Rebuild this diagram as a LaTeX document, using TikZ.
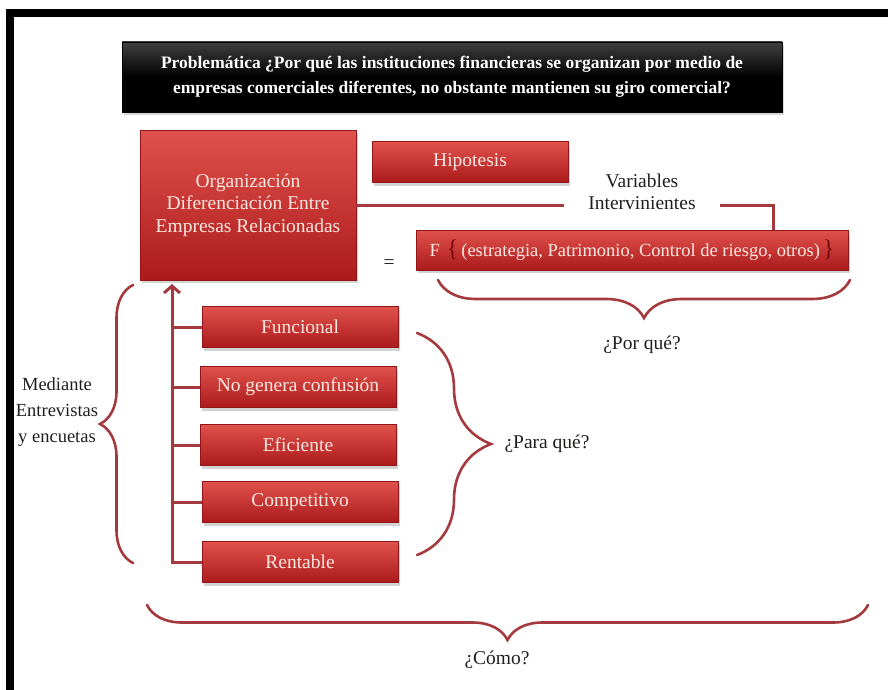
\documentclass[tikz,border=0pt]{standalone}
\usepackage{fontspec}
\setmainfont{Liberation Serif}
\usetikzlibrary{arrows.meta,shadows,decorations.pathreplacing}

\definecolor{boxtop}{RGB}{224,82,76}
\definecolor{boxbot}{RGB}{172,26,28}
\definecolor{pale}{RGB}{250,232,224}
\definecolor{wine}{RGB}{165,58,62}
\definecolor{ink}{RGB}{35,30,30}
\definecolor{darkbr}{RGB}{120,10,14}

\begin{document}
\begin{tikzpicture}[x=1pt, y=-1pt,
  font=\fontsize{19.5}{22.5}\selectfont,
  rbox/.style={rectangle, top color=boxtop, bottom color=boxbot, draw=boxbot!85!black,
               line width=0.6pt, text=pale, align=center, minimum width=196pt,
               minimum height=41pt, inner sep=2pt,
               drop shadow={opacity=0.35, shadow xshift=2pt, shadow yshift=-3pt}},
  ttl/.style={rectangle, top color=black!75, bottom color=black, middle color=black,
              draw=black, text=white, align=center, minimum width=660pt, minimum height=70pt,
              font=\bfseries\fontsize{17.5}{25}\selectfont,
              drop shadow={opacity=0.3, shadow xshift=2pt, shadow yshift=-3pt}},
  lbl/.style={text=ink, align=center, inner sep=1pt},
  lnk/.style={draw=wine, line width=3pt},
  brc/.style={draw=wine, line width=2.6pt, line cap=round, decorate,
              decoration={brace, amplitude=#1}}
]
\useasboundingbox (0,0) rectangle (888,690);
% frame
\fill[black] (6,9) rectangle (888,17);
\fill[black] (6,9) rectangle (14,690);

\node[ttl] (prob) at (452,77) {Problemática ¿Por qué las instituciones financieras se organizan por medio de\\
  empresas comerciales diferentes, no obstante mantienen su giro comercial?};

\node[rbox, minimum width=216pt, minimum height=150pt] (org) at (248,205)
  {Organización\\Diferenciación Entre\\Empresas Relacionadas};
\node[rbox] (hip) at (470,162) {Hipotesis};
\node[lbl, inner xsep=24pt] (vars) at (642,192) {Variables\\Intervinientes};
\node[rbox, minimum width=432pt, minimum height=40pt, font=\fontsize{18.5}{22}\selectfont] (fbox) at (632,250)
  {F\hspace{7pt}\textcolor{darkbr}{\fontsize{24}{24}\selectfont\{}\hspace{3pt}(estrategia, Patrimonio, Control de riesgo, otros)\hspace{3pt}\textcolor{darkbr}{\fontsize{24}{24}\selectfont\}}};
\node[lbl] (eq) at (389,264) {=};

\node[rbox] (func) at (300,327) {Funcional};
\node[rbox] (conf) at (298,387) {No genera confusión};
\node[rbox] (efic) at (298,445) {Eficiente};
\node[rbox] (comp) at (300,502) {Competitivo};
\node[rbox] (rent) at (300,562) {Rentable};

\node[lbl, font=\fontsize{18.5}{26}\selectfont] (medi) at (57,412) {Mediante\\Entrevistas\\y encuetas};
\node[lbl] (porq) at (642,345) {¿Por qué?};
\node[lbl] (para) at (547,444) {¿Para qué?};
\node[lbl] (como) at (497,660) {¿Cómo?};

% connectors
\draw[lnk] (org.east) -- (org.east -| vars.west);
\draw[lnk] (vars.east |- org.east) -| ([xshift=141pt]fbox.north);
\coordinate (trunk) at (172,284);
\draw[lnk, -{Straight Barb[length=7pt,width=16pt]}] (rent.west) -| (trunk);
\foreach \b in {func,conf,efic,comp}
  \draw[lnk] (\b.west) -- (\b.west -| trunk);

% braces
\coordinate (pqa) at (850,280);
\coordinate (pqb) at (438,280);
\draw[brc=38pt] (pqa) -- (pqb);
\coordinate (pra) at (417,333);
\coordinate (prb) at (417,555);
\draw[brc=74pt] (pra) -- (prb);
\coordinate (mea) at (133,563);
\coordinate (meb) at (133,285);
\draw[brc=33pt] (mea) -- (meb);
\coordinate (coa) at (868,605);
\coordinate (cob) at (147,605);
\draw[brc=35pt] (coa) -- (cob);
\end{tikzpicture}
\end{document}
